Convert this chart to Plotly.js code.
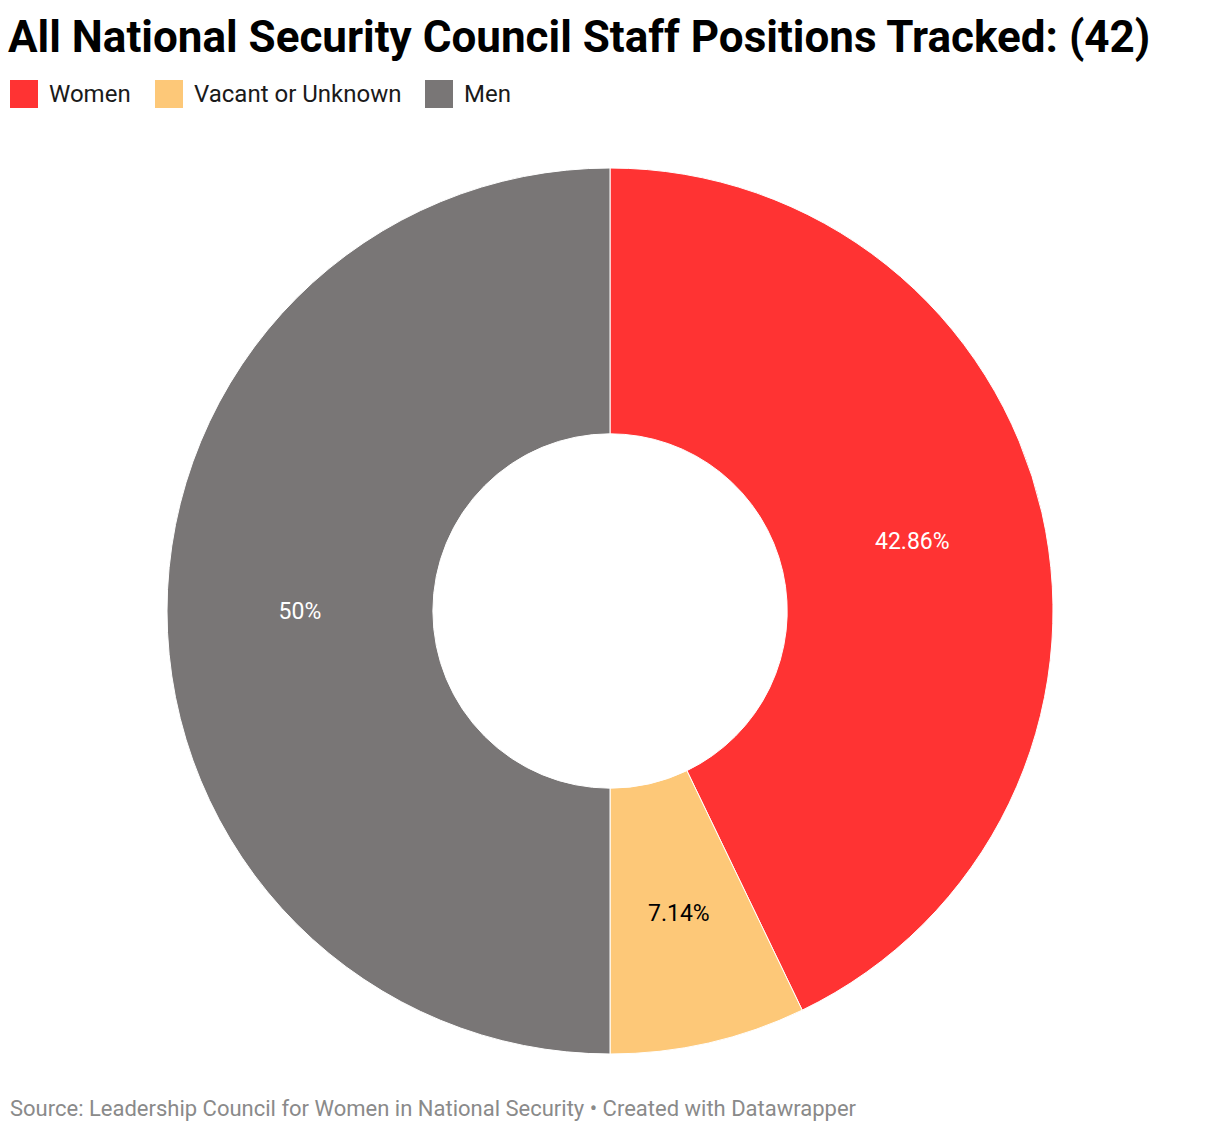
<!DOCTYPE html>
<html>
<head>
<meta charset="utf-8">
<script src="https://cdn.plot.ly/plotly-3.0.1.min.js"></script>
<style>html,body{margin:0;padding:0;background:#fff;}#chart{width:1220px;height:1132px;}</style>
</head>
<body>
<div id="chart"></div>
<script>
const categories = ["Women", "Vacant or Unknown", "Men"];
const counts = [18, 3, 21];
const sliceColors = ["#ff3333", "#fdc878", "#797676"];
const labelColors = ["#ffffff", "#000000", "#ffffff"];
const titleText = "All National Security Council Staff Positions Tracked: (42)";
const sourceText = "Source: Leadership Council for Women in National Security \u2022 Created with Datawrapper";

const W = 1220, H = 1132;
const mT = 168, mB = 78;
const plotH = H - mT - mB;
const HOLE = 0.40;
function py(p) { return (H - mB - p) / plotH; }   // pixel y -> paper y
function px(p) { return p / W; }

const total = counts.reduce((a, b) => a + b, 0);
const pctText = counts.map(v => {
  let s = (v / total * 100).toFixed(2);
  s = s.replace(/\.?0+$/, "");
  return s + "%";
});

// narrow slices: Plotly pushes their inside label outward; place those at mid-ring instead
const narrow = counts.map(v => v / total < 0.1);

const trace = {
  type: "pie",
  labels: categories,
  values: counts,
  text: pctText,
  textinfo: "text",
  hoverinfo: "label+text",
  sort: false,
  direction: "clockwise",
  rotation: 0,
  hole: HOLE,
  marker: { colors: sliceColors, line: { color: "#ffffff", width: 1 } },
  textposition: narrow.map(n => n ? "none" : "inside"),
  insidetextorientation: "horizontal",
  insidetextfont: { family: "Roboto, sans-serif", size: 23, color: labelColors },
  showlegend: false,
  domain: { x: [0, 1], y: [0, 1] }
};

const shapes = [];
const annotations = [];

// mid-ring labels for narrow slices, computed from the data
const R = Math.min(W, plotH) / 2;
const cxPx = W / 2, cyPx = mT + plotH / 2;
let cum = 0;
counts.forEach((v, i) => {
  const mid = (cum + v / 2) / total;
  cum += v;
  if (!narrow[i]) return;
  const th = mid * 2 * Math.PI;
  const rr = R * (1 + HOLE) / 2;
  const lx = cxPx + rr * Math.sin(th);
  const ly = cyPx - rr * Math.cos(th);
  annotations.push({
    xref: "paper", yref: "paper",
    x: px(lx), y: py(ly), xanchor: "center", yanchor: "middle",
    text: pctText[i], showarrow: false,
    font: { family: "Roboto, sans-serif", size: 23, color: labelColors[i] }
  });
});

// custom legend
const legendX = [10, 155, 425];
categories.forEach((c, i) => {
  shapes.push({
    type: "rect", xref: "paper", yref: "paper",
    x0: px(legendX[i]), x1: px(legendX[i] + 28),
    y0: py(108), y1: py(80),
    fillcolor: sliceColors[i], line: { width: 0 }
  });
  annotations.push({
    xref: "paper", yref: "paper",
    x: px(legendX[i] + 37), y: py(94),
    xanchor: "left", yanchor: "middle",
    text: c, showarrow: false,
    font: { family: "Roboto, sans-serif", size: 24, color: "#1a1a1a" }
  });
});
annotations.push({
  xref: "paper", yref: "paper",
  x: px(8), y: py(1108),
  xanchor: "left", yanchor: "middle",
  text: sourceText, showarrow: false,
  font: { family: "Roboto, sans-serif", size: 22, color: "#8a8a8a" }
});

const layout = {
  width: W, height: H,
  margin: { l: 0, r: 0, t: mT, b: mB, pad: 0 },
  paper_bgcolor: "#ffffff",
  plot_bgcolor: "#ffffff",
  title: {
    text: "<b>" + titleText + "</b>",
    xref: "container", yref: "container",
    x: 8 / W, xanchor: "left",
    y: 1 - 37 / H, yanchor: "middle",
    font: { family: "Roboto, sans-serif", size: 44, color: "#000000" }
  },
  shapes: shapes,
  annotations: annotations,
  showlegend: false
};

Plotly.newPlot("chart", [trace], layout, { displayModeBar: false, staticPlot: true });
</script>
</body>
</html>
